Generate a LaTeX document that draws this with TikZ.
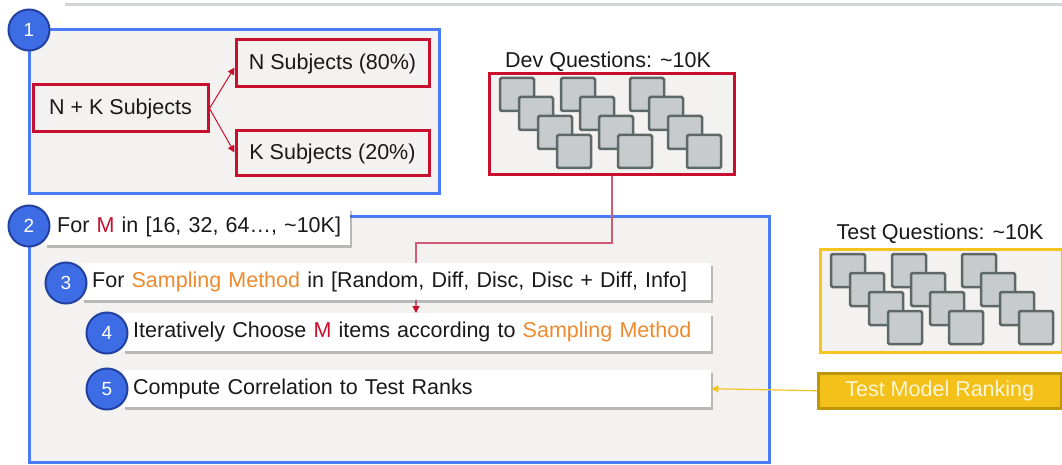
\documentclass[tikz,border=0pt]{standalone}
\usepackage{fontspec}
\setmainfont{Liberation Sans}
\usetikzlibrary{arrows.meta,shadows,calc}
\definecolor{panelblue}{RGB}{74,124,246}
\definecolor{panelgrey}{RGB}{243,242,241}
\definecolor{boxred}{RGB}{200,16,46}
\definecolor{linkred}{RGB}{210,90,115}
\definecolor{circfill}{RGB}{62,108,228}
\definecolor{circedge}{RGB}{35,65,160}
\definecolor{sorange}{RGB}{238,138,46}
\definecolor{sqfill}{RGB}{199,203,206}
\definecolor{sqedge}{RGB}{94,104,104}
\definecolor{testyellow}{RGB}{246,196,32}
\definecolor{rankfill}{RGB}{244,192,26}
\definecolor{rankedge}{RGB}{190,150,10}
\definecolor{ranktext}{RGB}{255,246,214}
\definecolor{topline}{RGB}{208,213,213}
\definecolor{ink}{RGB}{25,25,25}
\newcommand{\mvar}{\textcolor{boxred}{M}}
\newcommand{\smeth}{\textcolor{sorange}{Sampling Method}}
\begin{document}
\begin{tikzpicture}[x=1pt,y=-1pt,
  every node/.style={font=\fontsize{21.5}{25}\selectfont, text=ink},
  panel/.style={draw=panelblue, line width=3pt, fill=panelgrey, anchor=north west, inner sep=0pt},
  redbox/.style={draw=boxred, line width=3pt, fill=panelgrey, inner sep=0pt},
  stepbox/.style={fill=white, anchor=north west, align=left, inner xsep=10pt,
    drop shadow={shadow xshift=2pt, shadow yshift=-3pt, opacity=0.35, fill=black!70}},
  badge/.style={circle, fill=circfill, draw=circedge, line width=2pt, minimum size=41pt,
    inner sep=0pt, text=white, font=\fontsize{19}{22}\selectfont},
  qsq/.style={fill=sqfill, draw=sqedge, line width=2.5pt, rounded corners=1.5pt},
  splitarrow/.style={draw=boxred, line width=1pt, -{Triangle[width=7pt,length=7pt]}},
]
\useasboundingbox (0,0) rectangle (1062,465);
\fill[white] (0,0) rectangle (1062,465);
\draw[topline, line width=3pt] (65,5) -- (1062,5);

% ---- stage 1: subject split ----
\node[panel, minimum width=410pt, minimum height=164pt] (p1) at (28,28) {};
\node[redbox, minimum width=175pt, minimum height=47pt] (nk) at (120.5,108.5) {N + K Subjects};
\node[redbox, minimum width=193pt, minimum height=47pt] (ns) at (332.5,63.5) {N Subjects (80\%)};
\node[redbox, minimum width=193pt, minimum height=45pt] (ks) at (332.5,153.5) {K Subjects (20\%)};
\draw[splitarrow] (nk.east) -- ($(ns.west)+(0,4)$);
\draw[splitarrow] (nk.east) -- ($(ks.west)+(0,-1)$);
\node[badge] (b1) at (29,30) {1};

% ---- dev questions ----
\node[anchor=base] (devlabel) at (608,68) {Dev Questions: \textasciitilde10K};
\node[redbox, anchor=north west, minimum width=245pt, minimum height=101pt] (dev) at (488,72) {};
\foreach \gx in {500,561,630}
  \foreach \k in {0,1,2,3}
    \draw[qsq] (\gx+19*\k,78+19*\k) rectangle ++(34,33);

% ---- test questions ----
\node[anchor=base] (testlabel) at (940,239) {Test Questions: \textasciitilde10K};
\node[draw=testyellow, line width=3pt, fill=panelgrey, anchor=north west, inner sep=0pt,
  minimum width=242pt, minimum height=103pt] (test) at (819,248) {};
\foreach \gx in {831,892,962}
  \foreach \k in {0,1,2,3}
    \draw[qsq] (\gx+19*\k,254+19*\k) rectangle ++(34,33);
\node[fill=rankfill, draw=rankedge, line width=2.5pt, anchor=north west, inner sep=0pt,
  minimum width=243pt, minimum height=35pt, text=ranktext] (rank) at (817,372) {Test Model Ranking};

% ---- stage 2: evaluation loops ----
\node[panel, minimum width=740pt, minimum height=246pt] (p2) at (28,215) {};
\node[stepbox, inner xsep=6pt, text width=293pt, minimum height=37pt] (s2) at (45,208)
  {\hspace*{6pt}For \mvar{} in [16, 32, 64…, \textasciitilde10K]};
\coordinate (bend) at (416,243);
\draw[linkred, line width=1.2pt, -{Triangle[width=7pt,length=7pt,color=boxred]}]
  (dev.south) |- (bend) -- ($(bend)+(0,70)$);
\node[stepbox, text width=609pt, minimum height=37pt] (s3) at (82,263)
  {For \smeth{} in [Random, Diff, Disc, Disc + Diff, Info]};
\node[stepbox, text width=568pt, minimum height=38pt] (s4) at (123,313)
  {Iteratively Choose \mvar{} items according to \smeth};
\node[stepbox, text width=568pt, minimum height=37pt] (s5) at (123,370)
  {Compute Correlation to Test Ranks};
\draw[testyellow, line width=1.2pt, -{Triangle[width=7pt,length=7pt]}] (rank.west) -- (s5.east);
\node[badge] (b2) at (29,226) {2};
\node[badge] (b3) at (66,283) {3};
\node[badge] (b4) at (107,333) {4};
\node[badge] (b5) at (107,389) {5};
\end{tikzpicture}
\end{document}
